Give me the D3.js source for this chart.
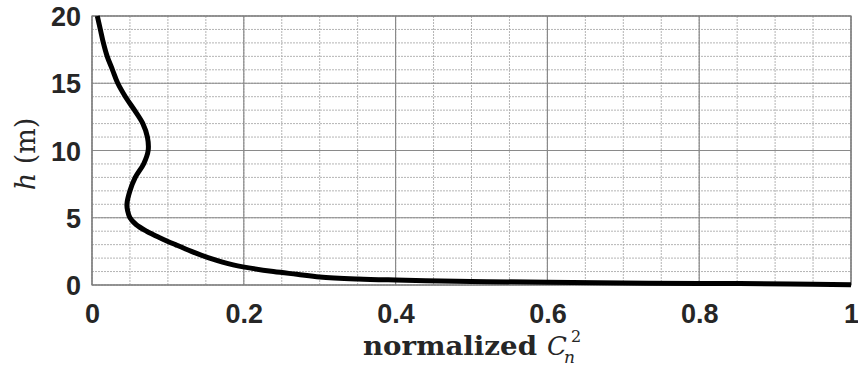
<!DOCTYPE html>
<html>
<head>
<meta charset="utf-8">
<script src="https://cdn.jsdelivr.net/npm/d3@7"></script>
<style>
  body { margin: 0; background: #fff; }
  .tick text { font-family: "Liberation Sans", Arial, sans-serif; font-weight: bold; font-size: 27px; fill: #262626; }
  .lab { font-family: "DejaVu Serif", "Liberation Serif", serif; fill: #262626; }
</style>
</head>
<body>
<svg id="chart" width="858" height="369"></svg>
<script>
// height h (m) and normalized Cn2
var heights = [20, 19, 18, 17, 16, 15, 14, 13, 12, 11, 10, 9, 8, 7, 6, 5.5, 5, 4.5, 4, 3.5, 3, 2.5, 2, 1.5, 1, 0.8, 0.6, 0.45, 0.37, 0.3, 0.25, 0.2, 0.15, 0.12, 0.08, 0.02];
var cn2 = [0.007, 0.011, 0.015, 0.02, 0.027, 0.034, 0.044, 0.056, 0.067, 0.073, 0.074, 0.068, 0.057, 0.05, 0.046, 0.047, 0.05, 0.058, 0.072, 0.09, 0.11, 0.131, 0.155, 0.186, 0.239, 0.27, 0.30, 0.35, 0.40, 0.46, 0.52, 0.60, 0.70, 0.80, 0.92, 1.0];
var xTicks = [0, 0.2, 0.4, 0.6, 0.8, 1];
var yTicks = [0, 5, 10, 15, 20];
var xMinor = d3.range(0, 1.0001, 0.05);
var yMinor = d3.range(0, 20.001, 1);

var pLeft = 92, pRight = 851, pTop = 16, pBottom = 285;
var svg = d3.select("#chart");

var x = d3.scaleLinear().domain([0, 1]).range([pLeft, pRight]);
var y = d3.scaleLinear().domain([0, 20]).range([pBottom, pTop]);

// minor grid
var grid = svg.append("g");
grid.selectAll("line.mx").data(xMinor).enter().append("line")
    .attr("x1", d => x(d)).attr("x2", d => x(d))
    .attr("y1", pTop).attr("y2", pBottom)
    .attr("stroke", "#b4b4b4").attr("stroke-width", 1)
    .attr("stroke-dasharray", "2,1");
grid.selectAll("line.my").data(yMinor).enter().append("line")
    .attr("x1", pLeft).attr("x2", pRight)
    .attr("y1", d => y(d)).attr("y2", d => y(d))
    .attr("stroke", "#b4b4b4").attr("stroke-width", 1)
    .attr("stroke-dasharray", "2,1");

// major grid
grid.selectAll("line.Mx").data(xTicks).enter().append("line")
    .attr("x1", d => x(d)).attr("x2", d => x(d))
    .attr("y1", pTop).attr("y2", pBottom)
    .attr("stroke", "#8a8a8a").attr("stroke-width", 1.2);
grid.selectAll("line.My").data(yTicks).enter().append("line")
    .attr("x1", pLeft).attr("x2", pRight)
    .attr("y1", d => y(d)).attr("y2", d => y(d))
    .attr("stroke", "#8a8a8a").attr("stroke-width", 1.2);

// frame
svg.append("rect")
    .attr("x", pLeft).attr("y", pTop)
    .attr("width", pRight - pLeft).attr("height", pBottom - pTop)
    .attr("fill", "none").attr("stroke", "#7a7a7a").attr("stroke-width", 1.2);

// axes (labels only)
var xAxis = svg.append("g").attr("transform", "translate(0," + pBottom + ")")
    .call(d3.axisBottom(x).tickValues(xTicks).tickSize(0).tickPadding(0).tickFormat(d3.format("")));
var yAxis = svg.append("g").attr("transform", "translate(" + pLeft + ",0)")
    .call(d3.axisLeft(y).tickValues(yTicks).tickSize(0).tickPadding(11));
svg.selectAll(".domain").remove();
xAxis.selectAll("text").attr("dy", null).attr("y", 38);
yAxis.selectAll("text").attr("dy", "0.36em");

// profile line
var pts = heights.map((h, i) => [cn2[i], h]);
svg.append("path")
    .datum(pts)
    .attr("fill", "none")
    .attr("stroke", "#000")
    .attr("stroke-width", 5)
    .attr("stroke-linejoin", "round")
    .attr("d", d3.line().x(d => x(d[0])).y(d => y(d[1])).curve(d3.curveCatmullRom));

// x label
var xl = svg.append("text").attr("class", "lab")
    .attr("x", 363).attr("y", 355)
    .attr("font-size", 26).attr("font-weight", "bold");
xl.append("tspan").attr("textLength", 174).attr("lengthAdjust", "spacingAndGlyphs").text("normalized");
xl.append("tspan").attr("x", 547).attr("font-style", "italic").attr("font-weight", "normal").attr("font-size", 26).text("C");
xl.append("tspan").attr("x", 564).attr("font-style", "italic").attr("font-weight", "normal").attr("font-size", 17).attr("dy", "8").text("n");
xl.append("tspan").attr("x", 571).attr("font-weight", "normal").attr("font-size", 16).attr("dy", "-21").text("2");

// y label
svg.append("text").attr("class", "lab")
    .attr("transform", "translate(35,154) rotate(-90)")
    .attr("text-anchor", "middle")
    .attr("font-size", 27)
    .html('<tspan font-style="italic">h</tspan> (m)');
</script>
</body>
</html>
